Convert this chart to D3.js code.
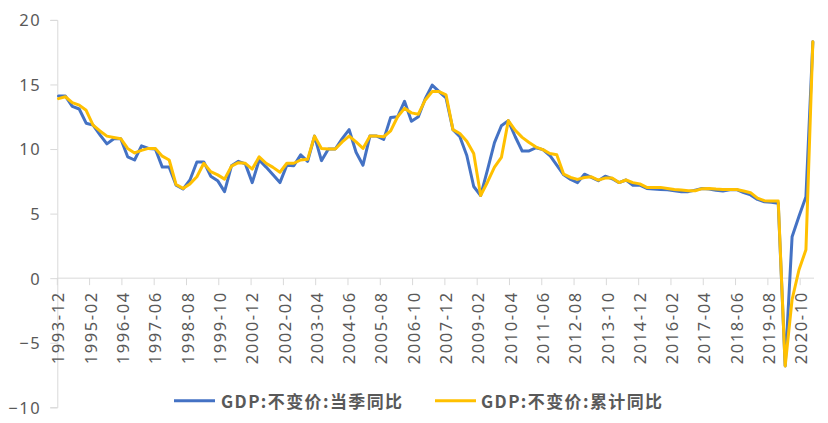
<!DOCTYPE html>
<html>
<head>
<meta charset="utf-8">
<script src="https://cdn.jsdelivr.net/npm/d3@7"></script>
<style>
  html, body { margin: 0; padding: 0; background: #ffffff; }
  svg { display: block; }
</style>
</head>
<body>
<svg id="chart" width="828" height="423"></svg>
<script>
// ---- Data ----
const quarters = [
  "1993-12",
  "1994-03","1994-06","1994-09","1994-12",
  "1995-03","1995-06","1995-09","1995-12",
  "1996-03","1996-06","1996-09","1996-12",
  "1997-03","1997-06","1997-09","1997-12",
  "1998-03","1998-06","1998-09","1998-12",
  "1999-03","1999-06","1999-09","1999-12",
  "2000-03","2000-06","2000-09","2000-12",
  "2001-03","2001-06","2001-09","2001-12",
  "2002-03","2002-06","2002-09","2002-12",
  "2003-03","2003-06","2003-09","2003-12",
  "2004-03","2004-06","2004-09","2004-12",
  "2005-03","2005-06","2005-09","2005-12",
  "2006-03","2006-06","2006-09","2006-12",
  "2007-03","2007-06","2007-09","2007-12",
  "2008-03","2008-06","2008-09","2008-12",
  "2009-03","2009-06","2009-09","2009-12",
  "2010-03","2010-06","2010-09","2010-12",
  "2011-03","2011-06","2011-09","2011-12",
  "2012-03","2012-06","2012-09","2012-12",
  "2013-03","2013-06","2013-09","2013-12",
  "2014-03","2014-06","2014-09","2014-12",
  "2015-03","2015-06","2015-09","2015-12",
  "2016-03","2016-06","2016-09","2016-12",
  "2017-03","2017-06","2017-09","2017-12",
  "2018-03","2018-06","2018-09","2018-12",
  "2019-03","2019-06","2019-09","2019-12",
  "2020-03","2020-06","2020-09","2020-12",
  "2021-03"
];

// GDP:不变价:当季同比
const quarterlyYoY = [
  14.1,
  14.1, 13.3, 13.1, 12.0,
  11.85, 11.1, 10.4, 10.8,
  10.8, 9.4, 9.15, 10.25,
  10.05, 10.0, 8.6, 8.6,
  7.2, 6.9, 7.6, 9.0,
  9.0, 7.9, 7.55, 6.7,
  8.7, 9.05, 8.85, 7.4,
  9.15, 8.6, 8.0, 7.4,
  8.75, 8.7, 9.55, 9.05,
  11.0, 9.1, 10.0, 10.0,
  10.8, 11.5, 9.75, 8.75,
  11.0, 11.0, 10.75, 12.45,
  12.5, 13.7, 12.15, 12.5,
  13.9, 14.95, 14.45, 13.95,
  11.5, 10.95, 9.5, 7.1,
  6.4, 8.4, 10.5, 11.8,
  12.2, 10.95, 9.85, 9.85,
  10.1, 9.95, 9.5, 8.75,
  8.0, 7.65, 7.4, 8.05,
  7.8, 7.55, 7.9, 7.7,
  7.4, 7.6, 7.2, 7.2,
  6.95, 6.9, 6.87, 6.85,
  6.77, 6.7, 6.7, 6.82,
  6.95, 6.9, 6.8, 6.75,
  6.85, 6.85, 6.62, 6.45,
  6.1, 5.92, 5.87, 5.8,
  -6.8, 3.2, 4.8, 6.3,
  18.3
];

// GDP:不变价:累计同比
const cumulativeYoY = [
  13.9,
  14.05, 13.6, 13.4, 13.0,
  11.85, 11.4, 11.0, 10.9,
  10.8, 10.05, 9.7, 9.9,
  10.05, 10.05, 9.45, 9.15,
  7.25, 6.95, 7.3, 7.85,
  8.9, 8.25, 8.0, 7.67,
  8.68, 8.94, 8.89, 8.45,
  9.4, 8.9, 8.58, 8.2,
  8.9, 8.9, 9.15, 9.2,
  11.0, 10.05, 10.0, 10.0,
  10.55, 11.0, 10.55, 10.05,
  11.0, 11.0, 10.95, 11.4,
  12.5, 13.15, 12.8, 12.7,
  13.8, 14.45, 14.45, 14.2,
  11.5, 11.2, 10.6, 9.65,
  6.4, 7.45, 8.6, 9.35,
  12.2, 11.45, 10.9, 10.5,
  10.15, 9.95, 9.65, 9.55,
  8.05, 7.8, 7.65, 7.8,
  7.85, 7.6, 7.75, 7.75,
  7.4, 7.6, 7.4, 7.3,
  7.03, 7.03, 7.03, 6.95,
  6.87, 6.82, 6.77, 6.77,
  6.93, 6.95, 6.9, 6.87,
  6.87, 6.87, 6.75, 6.62,
  6.2, 6.0, 5.97, 5.97,
  -6.8, -1.65, 0.65, 2.2,
  18.3
];

const xTickLabels = [
  "1993-12","1995-02","1996-04","1997-06","1998-08","1999-10",
  "2000-12","2002-02","2003-04","2004-06","2005-08","2006-10",
  "2007-12","2009-02","2010-04","2011-06","2012-08","2013-10",
  "2014-12","2016-02","2017-04","2018-06","2019-08","2020-10"
];
const yTicks = [-10, -5, 0, 5, 10, 15, 20];

const seriesNames = ["GDP:不变价:当季同比", "GDP:不变价:累计同比"];
const seriesColors = ["#4472C4", "#FFC000"];

// ---- Category axis (monthly, 1993-12 .. 2021-03) ----
const months = [];
{
  let y = 1993, m = 12;
  while (y < 2021 || (y === 2021 && m <= 3)) {
    months.push(y + "-" + String(m).padStart(2, "0"));
    m++; if (m > 12) { m = 1; y++; }
  }
}

// ---- Layout ----
const svg = d3.select("#chart");
const plotLeft = 57.3, plotRight = 814, plotTop = 19.9, plotBottom = 407.3;

const x = d3.scaleBand().domain(months).range([plotLeft, plotRight]).paddingInner(0).paddingOuter(0);
const y = d3.scaleLinear().domain([-10, 20]).range([plotBottom, plotTop]);
const cx = d => x(d) + x.bandwidth() / 2;

const axisColor = "#D9D9D9";
const textColor = "#595959";
const axisFont = "'Noto Sans', 'Open Sans', sans-serif";

// Y axis
const yAxis = svg.append("g").attr("transform", `translate(${plotLeft},0)`)
  .call(d3.axisLeft(y).tickValues(yTicks).tickSize(7).tickPadding(0).tickFormat(d3.format("d")));
yAxis.select(".domain").attr("stroke", axisColor).attr("stroke-width", 1);
yAxis.selectAll(".tick line").attr("stroke", axisColor);
yAxis.selectAll(".tick text")
  .attr("x", -16)
  .attr("dy", "0.36em")
  .attr("fill", textColor)
  .style("font-family", axisFont)
  .style("font-size", "16.5px")
  .style("letter-spacing", "1.6px");

// X axis (at y = 0)
const xAxisG = svg.append("g").attr("transform", `translate(0,${y(0)})`);
xAxisG.append("line")
  .attr("x1", plotLeft).attr("x2", plotRight)
  .attr("stroke", axisColor).attr("stroke-width", 1);
xAxisG.selectAll("line.tick")
  .data(xTickLabels)
  .join("line")
  .attr("class", "tick")
  .attr("x1", d => x(d)).attr("x2", d => x(d))
  .attr("y1", 0).attr("y2", 7)
  .attr("stroke", axisColor).attr("stroke-width", 1);
xAxisG.selectAll("text.lbl")
  .data(xTickLabels)
  .join("text")
  .attr("class", "lbl")
  .attr("transform", d => `translate(${cx(d) + 6},13) rotate(-90)`)
  .attr("text-anchor", "end")
  .attr("fill", textColor)
  .style("font-family", axisFont)
  .style("font-size", "16.5px")
  .style("letter-spacing", "1.6px")
  .text(d => d);

// Lines
const line = d3.line()
  .x((d, i) => cx(quarters[i]))
  .y(d => y(d));

[quarterlyYoY, cumulativeYoY].forEach((vals, k) => {
  svg.append("path")
    .datum(vals)
    .attr("d", line)
    .attr("fill", "none")
    .attr("stroke", seriesColors[k])
    .attr("stroke-width", 3)
    .attr("stroke-linejoin", "round")
    .attr("stroke-linecap", "round");
});

// Legend
const legendItems = [
  { x1: 174, x2: 215, tx: 221 },
  { x1: 435, x2: 476, tx: 481 }
];
const legY = 400.7;
legendItems.forEach((it, k) => {
  svg.append("line")
    .attr("x1", it.x1).attr("x2", it.x2)
    .attr("y1", legY).attr("y2", legY)
    .attr("stroke", seriesColors[k]).attr("stroke-width", 3);
  svg.append("text")
    .attr("x", it.tx).attr("y", legY)
    .attr("dominant-baseline", "central")
    .attr("fill", textColor)
    .style("font-family", "'Noto Sans CJK SC', sans-serif")
    .style("font-weight", "bold")
    .style("font-size", "17px")
    .style("letter-spacing", "1.4px")
    .text(seriesNames[k]);
});
</script>
</body>
</html>
